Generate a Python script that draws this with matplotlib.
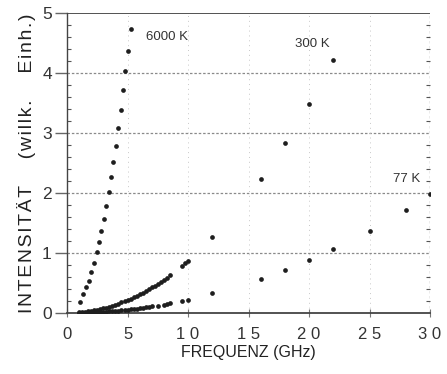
import matplotlib
matplotlib.use("Agg")
import matplotlib.pyplot as plt
from matplotlib.ticker import MultipleLocator

plt.rcParams['font.family'] = ['Liberation Sans', 'DejaVu Sans']

# 6000 K series
x_6000 = [1.07, 1.32, 1.57, 1.79, 2.0, 2.23, 2.45, 2.64, 2.81, 3.03, 3.22,
          3.44, 3.64, 3.83, 4.02, 4.24, 4.43, 4.65, 4.82, 5.01, 5.26]
y_6000 = [0.19, 0.32, 0.43, 0.54, 0.69, 0.84, 1.01, 1.19, 1.37, 1.57, 1.78,
          2.02, 2.26, 2.52, 2.79, 3.08, 3.39, 3.71, 4.03, 4.37, 4.73]

# 300 K series: dense part then sparse points
x_300 = [1.0, 1.25, 1.5, 1.75, 2.0, 2.25, 2.5, 2.75, 3.0, 3.25, 3.5, 3.75,
         4.0, 4.25, 4.5, 4.75, 5.0, 5.25, 5.5, 5.75, 6.0, 6.25, 6.5, 6.75,
         7.0, 7.25, 7.5, 7.75, 8.0, 8.25, 8.5, 9.5, 9.75, 10.0,
         12, 16, 18, 20, 22]
y_300 = [0.01, 0.014, 0.02, 0.027, 0.035, 0.044, 0.054, 0.066, 0.078, 0.092,
         0.107, 0.122, 0.139, 0.157, 0.176, 0.196, 0.218, 0.24, 0.263, 0.288,
         0.313, 0.34, 0.368, 0.396, 0.426, 0.457, 0.489, 0.522, 0.557, 0.592,
         0.629, 0.785, 0.827, 0.87,
         1.26, 2.23, 2.83, 3.48, 4.21]

# 77 K series: dense part then sparse points
x_77 = [1.0, 1.25, 1.5, 1.75, 2.0, 2.25, 2.5, 2.75, 3.0, 3.25, 3.5, 3.75,
        4.0, 4.25, 4.5, 4.75, 5.0, 5.25, 5.5, 5.75, 6.0, 6.25, 6.5, 6.75,
        7.0, 7.5, 8.0, 8.25, 8.5, 9.5, 10.0,
        12, 16, 18, 20, 22, 25, 28, 30]
y_77 = [0.002, 0.004, 0.005, 0.007, 0.009, 0.011, 0.014, 0.017, 0.02, 0.023,
        0.027, 0.031, 0.036, 0.04, 0.045, 0.05, 0.056, 0.061, 0.067, 0.073,
        0.08, 0.087, 0.094, 0.101, 0.109, 0.125, 0.142, 0.151, 0.16, 0.2,
        0.222,
        0.33, 0.57, 0.72, 0.89, 1.07, 1.37, 1.72, 1.98]

labels = ["6000 K", "300 K", "77 K"]
label_pos = [(8.3, 4.6), (20.3, 4.49), (28.1, 2.24)]

fig = plt.figure(figsize=(4.47, 3.74), dpi=100)
ax = fig.add_axes([0.150, 0.163, 0.812, 0.802])
ink = '#1e1e1e'

for xs, ys in [(x_6000, y_6000), (x_300, y_300), (x_77, y_77)]:
    ax.plot(xs, ys, linestyle='none', marker='o', markersize=3.4,
            color=ink, markeredgewidth=0, zorder=3)

for lab, (lx, ly) in zip(labels, label_pos):
    ax.text(lx, ly, lab, fontsize=9.5, color='#333333', ha='center', va='center')

ax.set_xlim(0, 30)
ax.set_ylim(0, 5)
ax.set_xticks([0, 5, 10, 15, 20, 25, 30])
ax.set_xticklabels(["0", "5", "1 0", "1 5", "2 0", "2 5", "3 0"])
ax.set_yticks([0, 1, 2, 3, 4, 5])
ax.yaxis.set_minor_locator(MultipleLocator(0.2))

# grid lines
for yv in [1, 2, 3, 4]:
    ax.axhline(yv, color='#8a8a8a', linewidth=0.9, linestyle=(0, (2, 1.5)), zorder=1)
ax.axhline(5, color='#444444', linewidth=1.3, zorder=2)
for xv in [5, 10, 15, 20, 25]:
    ax.axvline(xv, color='#c8c8c8', linewidth=0.7, linestyle=(0, (1, 4)), zorder=1)
ax.axvline(30, color='#666666', linewidth=0.9, linestyle=(0, (2, 2)), zorder=1)

for side in ['top', 'right']:
    ax.spines[side].set_visible(False)
ax.spines['left'].set_color('#444444')
ax.spines['bottom'].set_color('#444444')
ax.spines['left'].set_linewidth(1.0)
ax.spines['bottom'].set_linewidth(1.3)

ax.tick_params(axis='y', which='major', direction='out', length=9, width=1.0,
               color='#666666', labelsize=12.5, labelcolor='#333333', pad=2)
ax.tick_params(axis='y', which='minor', direction='in', length=3, width=0.8,
               color='#555555', right=True)
ax.tick_params(axis='x', which='major', direction='inout', length=6, width=0.8,
               color='#777777', labelsize=12, labelcolor='#333333', pad=7)

ax.set_xlabel("FREQUENZ (GHz)", fontsize=11.5, color='#222222', labelpad=2)
hs = "\u200a"
ylab = hs.join("INTENSITÄT") + "     " + hs.join("(willk.") + "     " + hs.join("Einh.)")
ax.set_ylabel(ylab, fontsize=14, color='#222222', labelpad=4)

fig.savefig("out.png", dpi=100, facecolor='white')
